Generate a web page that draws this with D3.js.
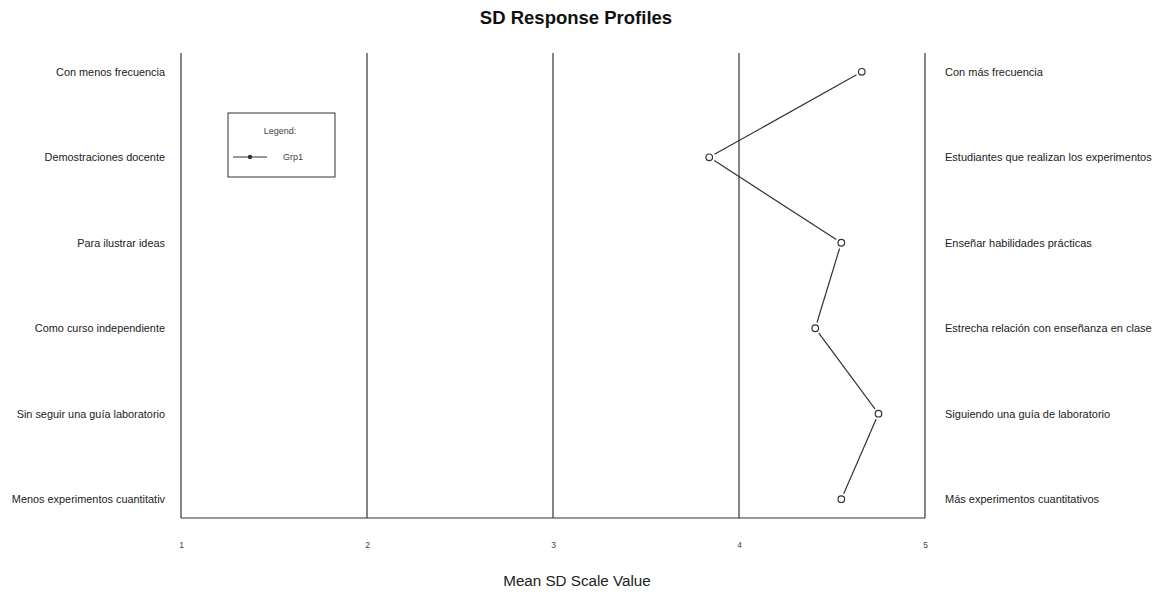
<html>
<head>
    <style>
        body { margin: 0; background: white; font-family: "Liberation Sans", Arial, sans-serif; }
        svg { display: block; }
    </style>
    <script src="https://cdn.jsdelivr.net/npm/d3@7"></script>
</head>
<body>
    <svg id="Chart"></svg>
    <script>
    // left and right anchors of each semantic differential item
    let leftLabels = ["Con menos frecuencia", "Demostraciones docente", "Para ilustrar ideas",
        "Como curso independiente", "Sin seguir una guía laboratorio", "Menos experimentos cuantitativ"];
    let rightLabels = ["Con más frecuencia", "Estudiantes que realizan los experimentos", "Enseñar habilidades prácticas",
        "Estrecha relación con enseñanza en clase", "Siguiendo una guía de laboratorio", "Más experimentos cuantitativos"];
    let grp1 = [4.66, 3.84, 4.55, 4.41, 4.75, 4.55];
    let xTicks = [1, 2, 3, 4, 5];
    let seriesName = "Grp1";

    let width = 1153, height = 592;
    let margin = { top: 53, bottom: 74, left: 181, right: 228 };
    let svg = d3.select("#Chart").attr("width", width).attr("height", height);

    let xScale = d3.scaleLinear().domain([1, 5]).range([margin.left, width - margin.right]);
    let yScale = d3.scalePoint().domain(d3.range(leftLabels.length))
        .range([margin.top, height - margin.bottom]).padding(0.22);

    let ink = "#333";
    let font = "Liberation Sans, Arial, sans-serif";

    // title
    svg.append("text").attr("x", 576).attr("y", 24).attr("text-anchor", "middle")
        .attr("font-size", 18.5).attr("font-weight", "bold").attr("fill", "#111")
        .text("SD Response Profiles");

    // vertical reference lines at every tick
    svg.selectAll(".vline").data(xTicks).enter().append("line")
        .attr("x1", d => xScale(d)).attr("x2", d => xScale(d))
        .attr("y1", margin.top).attr("y2", height - margin.bottom)
        .attr("stroke", ink).attr("stroke-width", 1.2);

    // bottom line
    svg.append("line")
        .attr("x1", xScale(1)).attr("x2", xScale(5))
        .attr("y1", height - margin.bottom).attr("y2", height - margin.bottom)
        .attr("stroke", ink).attr("stroke-width", 1.2);

    // x axis tick labels (no tick marks)
    let axisX = d3.axisBottom(xScale).tickValues(xTicks).tickFormat(d3.format("d")).tickSize(0).tickPadding(24);
    let gx = svg.append("g").attr("transform", `translate(0,${height - margin.bottom})`).call(axisX);
    gx.select(".domain").remove();
    gx.selectAll("text").attr("font-size", 8.5).attr("fill", "#444").attr("font-family", font);

    svg.append("text").attr("x", 577).attr("y", 586).attr("text-anchor", "middle")
        .attr("font-size", 15.2).attr("fill", "#222").text("Mean SD Scale Value");

    // left and right anchor labels
    let axisL = d3.axisLeft(yScale).tickFormat(i => leftLabels[i]).tickSize(0).tickPadding(16);
    let gl = svg.append("g").attr("transform", `translate(${margin.left},0)`).call(axisL);
    gl.select(".domain").remove();
    gl.selectAll("text").attr("font-size", 10.9).attr("fill", "#222").attr("font-family", font);

    let axisR = d3.axisRight(yScale).tickFormat(i => rightLabels[i]).tickSize(0).tickPadding(20);
    let gr = svg.append("g").attr("transform", `translate(${xScale(5)},0)`).call(axisR);
    gr.select(".domain").remove();
    gr.selectAll("text").attr("font-size", 11).attr("fill", "#222").attr("font-family", font);

    // profile line, with gaps around points like R type "b"
    let pts = grp1.map((v, i) => [xScale(v), yScale(i)]);
    let gap = 6;
    let segs = d3.pairs(pts).map(([a, b]) => {
        let dx = b[0] - a[0], dy = b[1] - a[1], len = Math.hypot(dx, dy);
        let ux = dx / len, uy = dy / len;
        return [a[0] + ux * gap, a[1] + uy * gap, b[0] - ux * gap, b[1] - uy * gap];
    });
    svg.selectAll(".seg").data(segs).enter().append("line")
        .attr("x1", d => d[0]).attr("y1", d => d[1]).attr("x2", d => d[2]).attr("y2", d => d[3])
        .attr("stroke", ink).attr("stroke-width", 1.2);

    svg.selectAll(".pt").data(grp1).enter().append("circle")
        .attr("cx", d => xScale(d)).attr("cy", (d, i) => yScale(i)).attr("r", 3.3)
        .attr("fill", "white").attr("stroke", ink).attr("stroke-width", 1.2);

    // legend
    let lg = svg.append("g").attr("transform", "translate(228,113)");
    lg.append("rect").attr("width", 107).attr("height", 64)
        .attr("fill", "white").attr("stroke", ink).attr("stroke-width", 1);
    lg.append("text").attr("x", 52).attr("y", 21).attr("text-anchor", "middle")
        .attr("font-size", 9).attr("fill", "#444").attr("font-family", font).text("Legend:");
    lg.append("line").attr("x1", 5).attr("x2", 39).attr("y1", 44).attr("y2", 44)
        .attr("stroke", ink).attr("stroke-width", 1);
    lg.append("circle").attr("cx", 22).attr("cy", 44).attr("r", 2.2).attr("fill", ink);
    lg.append("text").attr("x", 55).attr("y", 47).attr("font-size", 9).attr("fill", "#444")
        .attr("font-family", font).text(seriesName);
    </script>
</body>
</html>
